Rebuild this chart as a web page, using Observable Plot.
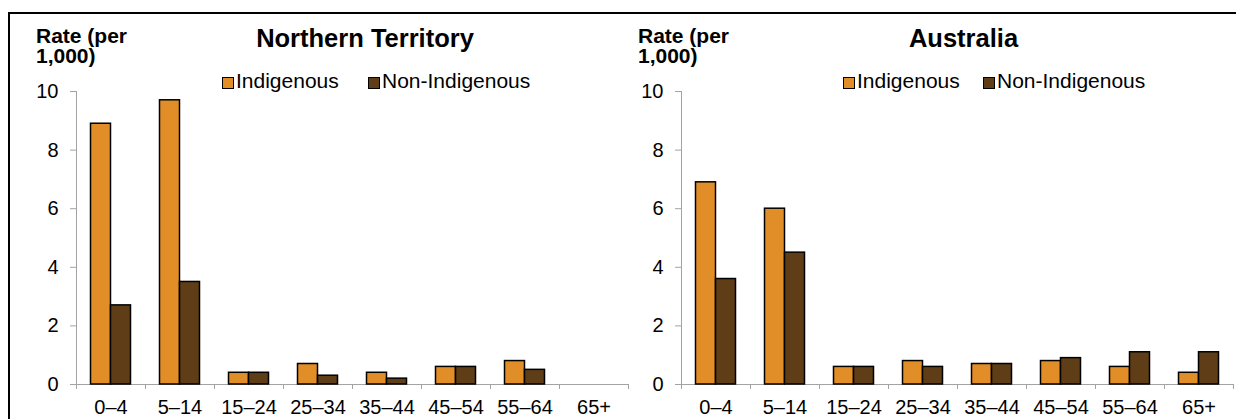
<!DOCTYPE html>
<html>
<head>
<meta charset="utf-8">
<script src="https://cdn.jsdelivr.net/npm/d3@7"></script>
<script src="https://cdn.jsdelivr.net/npm/@observablehq/plot@0.6"></script>
<style>
  body { margin: 0; background: #fff; font-family: "Liberation Sans", Arial, sans-serif; }
  #wrap { position: relative; width: 1236px; height: 419px; overflow: hidden; background: #fff; }
  #border { position: absolute; left: 8px; top: 12px; width: 1400px; height: 600px;
            border-top: 2px solid #000; border-left: 2px solid #000; box-sizing: border-box; }
  .panel { position: absolute; top: 0; }
  .panel svg { overflow: visible; }
  .ylab { position: absolute; font-weight: bold; font-size: 21px; line-height: 20px; color: #000; white-space: pre; }
  .title { position: absolute; font-weight: bold; font-size: 25.5px; line-height: 25px; color: #000;
           transform: translateX(-50%); white-space: nowrap; }
  .lg { position: absolute; font-size: 21px; line-height: 20px; color: #000; white-space: nowrap; }
  .sw { position: absolute; width: 12px; height: 12px; border: 1.5px solid #000; box-sizing: border-box; }
</style>
</head>
<body>
<div id="wrap">
  <div id="border"></div>
  <div id="left" class="panel" style="left:0px"></div>
  <div id="right" class="panel" style="left:618px"></div>
</div>
<script>
// ---- data ----
const ageGroups = ["0–4", "5–14", "15–24", "25–34", "35–44", "45–54", "55–64", "65+"];
const seriesNames = ["Indigenous", "Non-Indigenous"];
const ntIndigenous = [8.9, 9.7, 0.4, 0.7, 0.4, 0.6, 0.8, null];
const ntNonIndigenous = [2.7, 3.5, 0.4, 0.3, 0.2, 0.6, 0.5, null];
const ausIndigenous = [6.9, 6.0, 0.6, 0.8, 0.7, 0.8, 0.6, 0.4];
const ausNonIndigenous = [3.6, 4.5, 0.6, 0.6, 0.7, 0.9, 1.1, 1.1];
const yTicks = [0, 2, 4, 6, 8, 10];
const yAxisTitle = ["Rate (per", "1,000)"];
const panelTitles = ["Northern Territory", "Australia"];

const colors = {"Indigenous": "#E18D28", "Non-Indigenous": "#5E3D17"};
const axisGray = "#A3A3A3";

function makePanel(indig, nonIndig, width, marginLeft, marginRight) {
  const rows = [];
  ageGroups.forEach((age, i) => {
    if (indig[i] != null) rows.push({age, series: seriesNames[0], value: indig[i]});
    if (nonIndig[i] != null) rows.push({age, series: seriesNames[1], value: nonIndig[i]});
  });
  const step = (width - marginLeft - marginRight) / ageGroups.length;
  const barW = 20;
  const gap = (step - 2 * barW) / 2;
  const barOpts = (s) => ({
    x: "age", y: "value", fill: colors[s], stroke: "#000", strokeWidth: 1.5,
    insetLeft: s === seriesNames[0] ? gap : gap + barW,
    insetRight: s === seriesNames[0] ? gap + barW : gap
  });
  return Plot.plot({
    width, height: 419,
    marginLeft, marginRight, marginTop: 91, marginBottom: 35,
    style: {fontFamily: "'Liberation Sans', Arial, sans-serif", fontSize: "20px", color: "#000", background: "transparent", overflow: "visible"},
    x: {type: "band", domain: ageGroups, padding: 0, label: null},
    y: {domain: [0, 10], label: null},
    marks: [
      Plot.frame({anchor: "left", stroke: axisGray}),
      Plot.ruleY([0], {stroke: axisGray}),
      Plot.axisY({ticks: yTicks, tickSize: 6, tickPadding: 12, stroke: axisGray, fill: "#000", label: null}),
      Plot.axisX({tickSize: 5, tickFormat: () => "", dx: -step / 2, stroke: axisGray, label: null}),
      Plot.axisX({ticks: [ageGroups[ageGroups.length - 1]], tickSize: 5, tickFormat: () => "", dx: step / 2, stroke: axisGray, label: null}),
      Plot.axisX({tickSize: 0, tickPadding: 15, fill: "#000", label: null}),
      Plot.barY(rows.filter(d => d.series === seriesNames[0]), barOpts(seriesNames[0])),
      Plot.barY(rows.filter(d => d.series === seriesNames[1]), barOpts(seriesNames[1]))
    ]
  });
}

document.getElementById("left").append(makePanel(ntIndigenous, ntNonIndigenous, 630, 76, 2));
document.getElementById("right").append(makePanel(ausIndigenous, ausNonIndigenous, 618, 63, 3));

// ---- titles, axis titles, legends (HTML) ----
const wrap = document.getElementById("wrap");
function addDiv(cls, text, left, top, extra) {
  const d = document.createElement("div");
  d.className = cls;
  if (text != null) d.textContent = text;
  d.style.left = left + "px";
  d.style.top = top + "px";
  if (extra) Object.assign(d.style, extra);
  wrap.append(d);
  return d;
}
const panelsLayout = [
  {ylabX: 36, titleX: 365, sw: [222, 368], txt: [236, 382]},
  {ylabX: 638, titleX: 963.5, sw: [843, 983], txt: [857, 997]}
];
panelsLayout.forEach((p, k) => {
  addDiv("ylab", yAxisTitle.join("\n"), p.ylabX, 26);
  addDiv("title", panelTitles[k], p.titleX, 25.5);
  seriesNames.forEach((s, j) => {
    addDiv("sw", null, p.sw[j], 77, {background: colors[s]});
    addDiv("lg", s, p.txt[j], 71);
  });
});
</script>
</body>
</html>
